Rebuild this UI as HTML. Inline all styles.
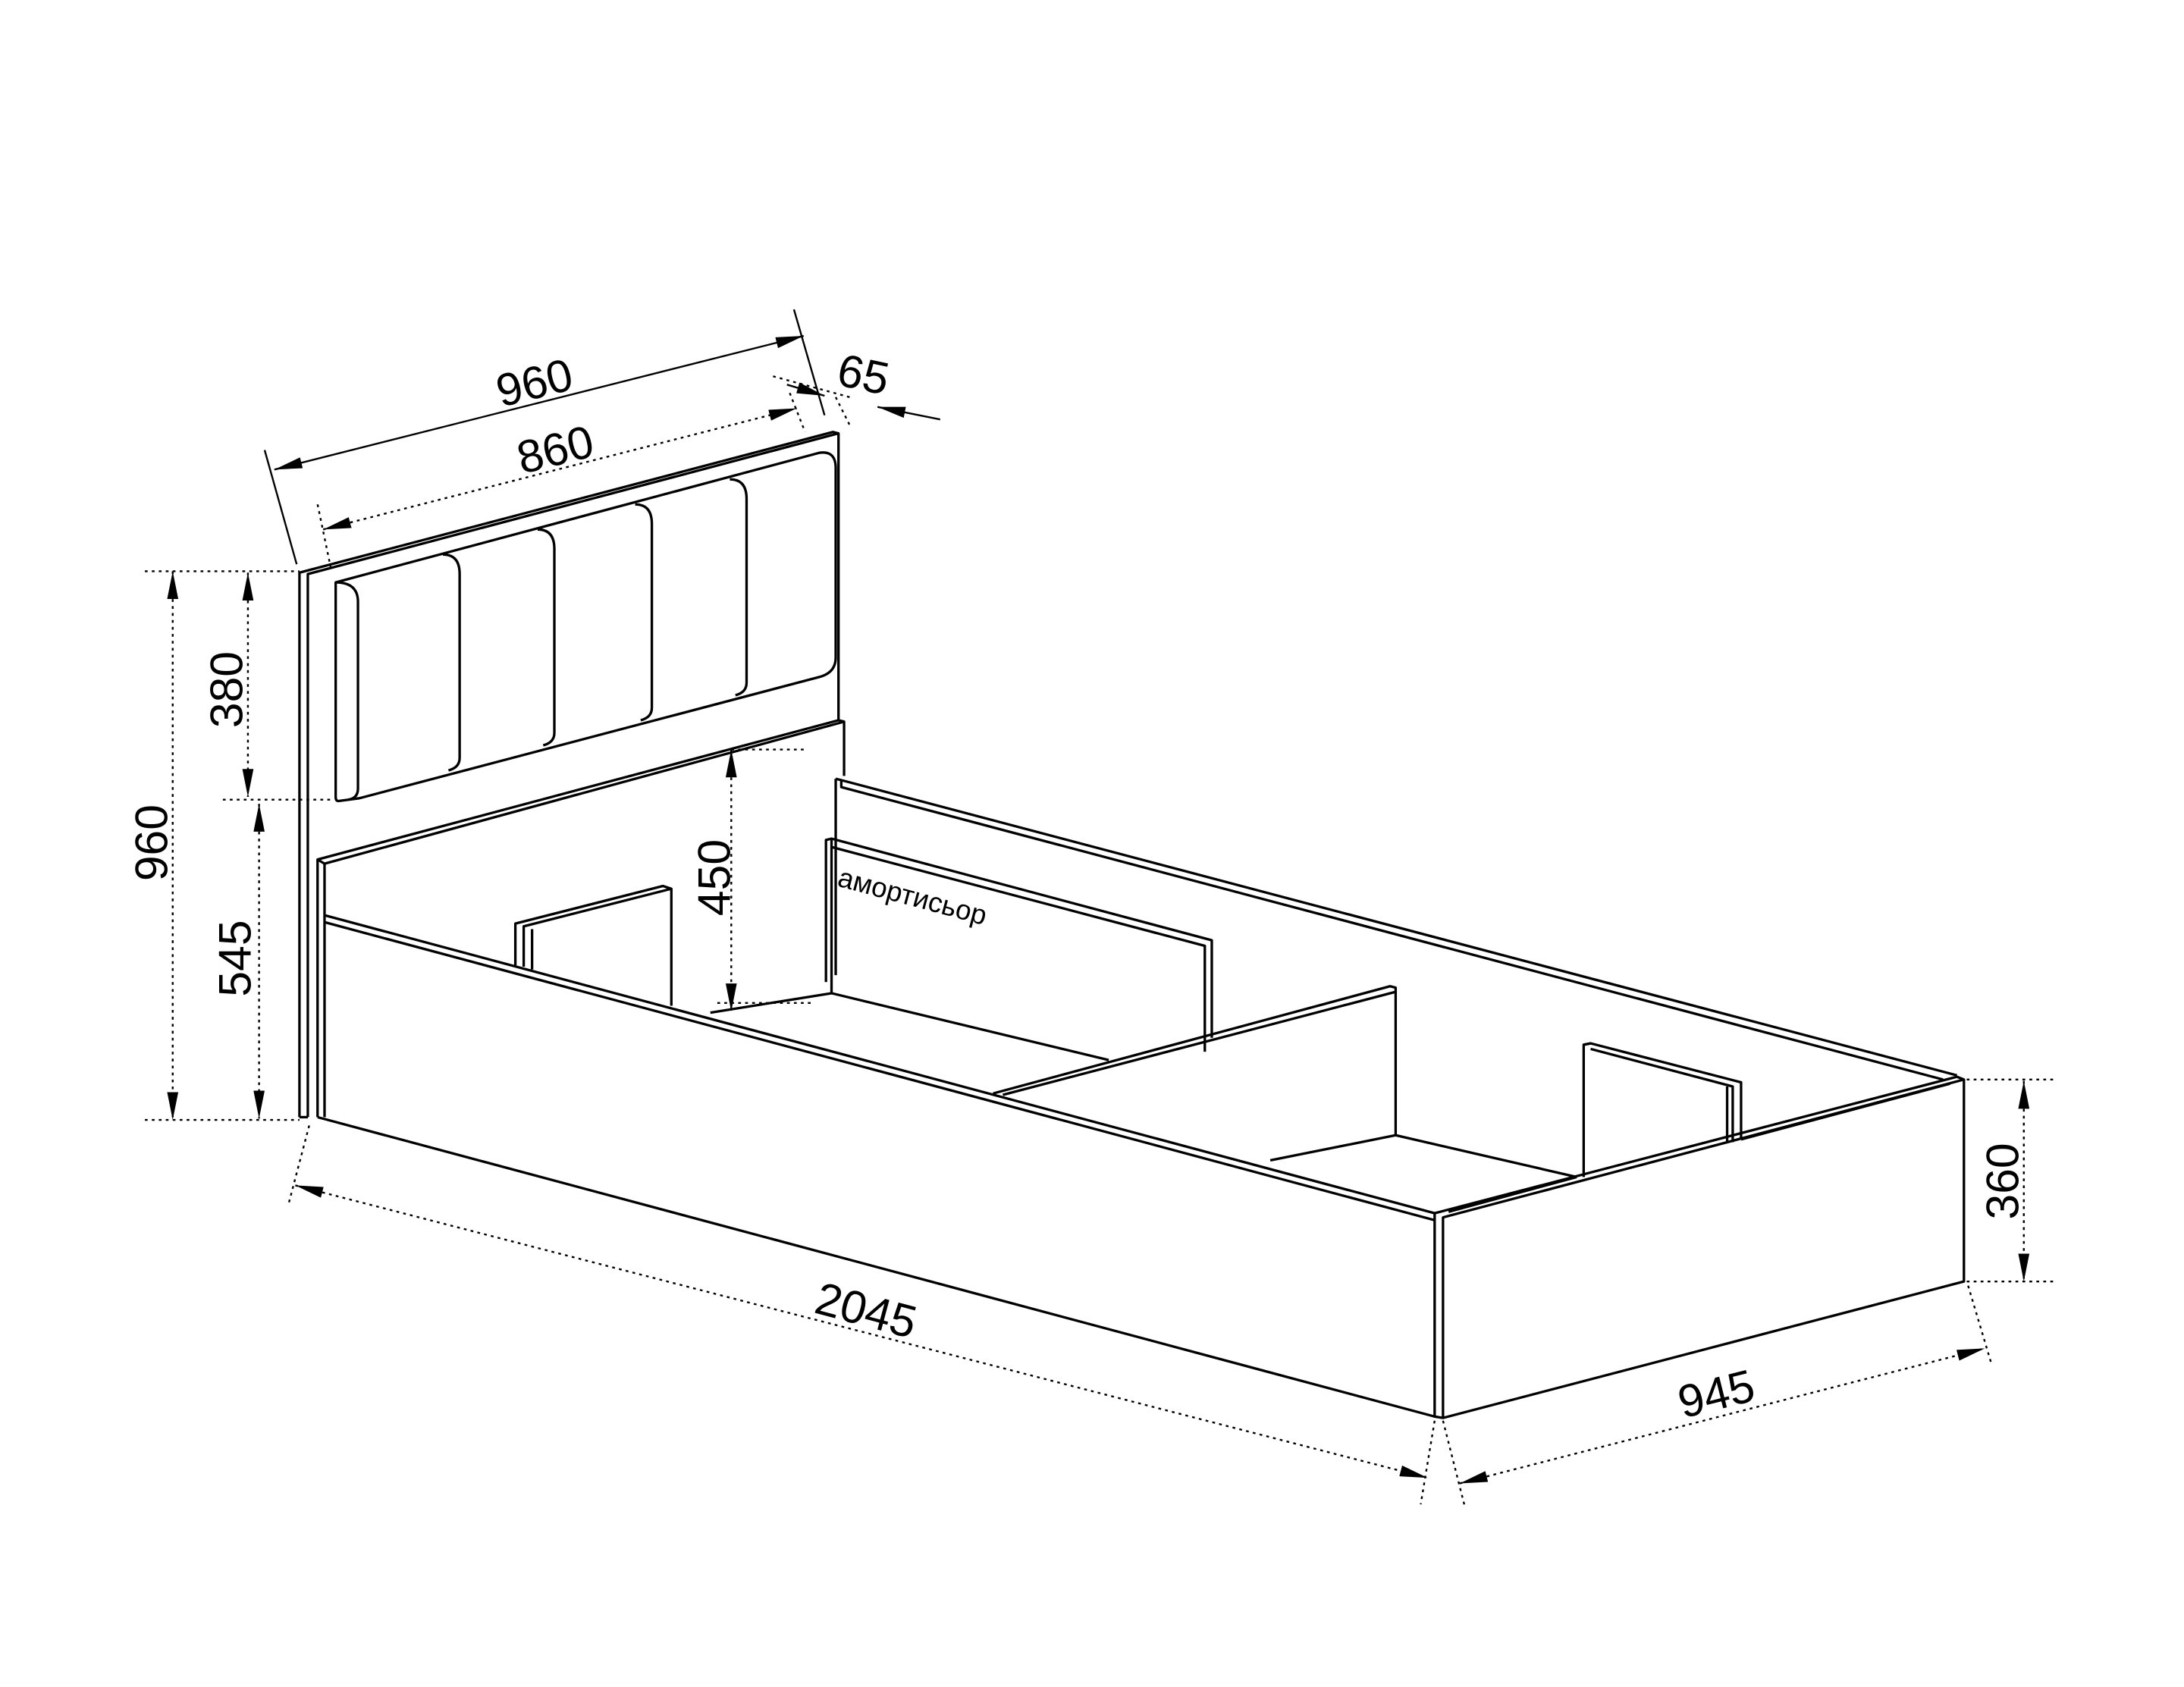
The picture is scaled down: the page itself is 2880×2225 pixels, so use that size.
<!DOCTYPE html>
<html><head><meta charset="utf-8"><style>
html,body{margin:0;padding:0;background:#fff;}
svg{display:block;}
text{font-family:"Liberation Sans",sans-serif;fill:#000;}
</style></head><body>
<svg width="2880" height="2225" viewBox="0 0 1568 1211" xmlns="http://www.w3.org/2000/svg">
<defs>
<marker id="a" viewBox="0 0 20 8" refX="20" refY="4" markerWidth="20" markerHeight="8" markerUnits="userSpaceOnUse" orient="auto-start-reverse"><path d="M0,0 L20,4 L0,8 z" fill="#000"/></marker>
</defs>
<g fill="none" stroke="#000" stroke-width="1.8" stroke-linejoin="round">
<path d="M215,802 V411 L598,310 L602,311 V517"/>
<path d="M221,802 V412 L602,311"/>
<path d="M215,802 H221"/>
<path d="M241,418 L588,325 Q600,323 600,336 V472 Q600,483 588,486 L258,573 L243,575 Q241,575 241,572 Z"/>
<path d="M241,418 Q257,418 257,432 V566 Q257,573 250,574"/>
<path d="M318,398 Q330,398 330,412 V544 Q330,551 322,553"/>
<path d="M386,380 Q398,380 398,394 V526 Q398,533 390,535"/>
<path d="M456,362 Q468,362 468,376 V508 Q468,515 460,517"/>
<path d="M524,344 Q536,344 536,358 V490 Q536,497 528,499"/>
<path d="M228,802 V617 L602,517 L606,518 V557"/>
<path d="M233,802 V620 L606,518"/>
<path d="M228,617 L233,620"/>
<path d="M233,657 L1030,871"/>
<path d="M233,662 L1030,876"/>
<path d="M228,802 L1030,1017"/>
<path d="M1030,871 V1017 L1036,1018 L1410,920 V775 L1405,773 L1030,871"/>
<path d="M1036,1018 V874 L1410,775"/>
<path d="M600,559 V700"/>
<path d="M600,559 L604,560 L1405,772"/>
<path d="M604,560 V565 L1395,775"/>
<path d="M593,705 V603 L597,602 L870,675 V745"/>
<path d="M597,602 V713"/>
<path d="M597,608 L865,679 V755"/>
<path d="M510,727 L597,713 L796,761"/>
<path d="M370,693 V663 L476,636 L482,638 V722"/>
<path d="M376,694 V665 L482,638"/>
<path d="M382,696 V667"/>
<path d="M713,785 L998,708 L1002,709 V815"/>
<path d="M720,786 L1002,712"/>
<path d="M912,833 L1002,815 L1132,845"/>
<path d="M1137,845 V750 L1142,749 L1250,777 V818"/>
<path d="M1142,753 L1244,780 V820"/>
<path d="M1137,750 L1142,749"/>
<path d="M1240,780 V820"/>
<path d="M1040,870 L1132,845"/>
<path d="M1250,818 L1400,778"/>
</g>
<g fill="none" stroke="#000" stroke-width="1.3">
<line x1="197" y1="337" x2="577" y2="241" marker-start="url(#a)" marker-end="url(#a)"/>
<line x1="190" y1="323" x2="213" y2="405"/>
<line x1="570" y1="222" x2="592" y2="298"/>
<line x1="565" y1="276" x2="592" y2="284" marker-end="url(#a)"/>
<line x1="675" y1="301" x2="630" y2="292" marker-end="url(#a)"/>
</g>
<g fill="none" stroke="#000" stroke-width="1.3" stroke-dasharray="2,3">
<line x1="232" y1="380" x2="572" y2="293" marker-start="url(#a)" marker-end="url(#a)"/>
<line x1="228" y1="362" x2="238" y2="410"/>
<line x1="567" y1="282" x2="578" y2="310"/>
<line x1="555" y1="270" x2="610" y2="285"/>
<line x1="600" y1="285" x2="610" y2="305"/>
<line x1="124" y1="410" x2="124" y2="804" marker-start="url(#a)" marker-end="url(#a)"/>
<line x1="104" y1="410" x2="215" y2="410"/>
<line x1="104" y1="804" x2="215" y2="804"/>
<line x1="160" y1="574" x2="240" y2="574"/>
<line x1="178" y1="411" x2="178" y2="572" marker-start="url(#a)" marker-end="url(#a)"/>
<line x1="186" y1="577" x2="186" y2="803" marker-start="url(#a)" marker-end="url(#a)"/>
<line x1="525" y1="538" x2="525" y2="726" marker-start="url(#a)" marker-end="url(#a)"/>
<line x1="525" y1="538" x2="578" y2="538"/>
<line x1="515" y1="720" x2="582" y2="720"/>
<line x1="212" y1="851" x2="1025" y2="1061" marker-start="url(#a)" marker-end="url(#a)"/>
<line x1="222" y1="808" x2="207" y2="865"/>
<line x1="1030" y1="1020" x2="1020" y2="1080"/>
<line x1="1048" y1="1065" x2="1425" y2="968" marker-start="url(#a)" marker-end="url(#a)"/>
<line x1="1036" y1="1020" x2="1052" y2="1083"/>
<line x1="1413" y1="923" x2="1430" y2="980"/>
<line x1="1453" y1="776" x2="1453" y2="920" marker-start="url(#a)" marker-end="url(#a)"/>
<line x1="1412" y1="775" x2="1475" y2="775"/>
<line x1="1412" y1="920" x2="1475" y2="920"/>
</g>
<g font-size="33">
<text x="383" y="286" text-anchor="middle" transform="rotate(-14 383 272)">960</text>
<text x="398" y="334" text-anchor="middle" transform="rotate(-14 398 320)">860</text>
<text x="620" y="280" text-anchor="middle" transform="rotate(12 620 268)">65</text>
<text x="108" y="617" text-anchor="middle" transform="rotate(-90 108 605)">960</text>
<text x="162" y="507" text-anchor="middle" transform="rotate(-90 162 495)">380</text>
<text x="168" y="700" text-anchor="middle" transform="rotate(-90 168 688)">545</text>
<text x="512" y="642" text-anchor="middle" transform="rotate(-90 512 630)">450</text>
<text x="622" y="952" text-anchor="middle" transform="rotate(15 622 940)">2045</text>
<text x="1232" y="1012" text-anchor="middle" transform="rotate(-14 1232 1000)">945</text>
<text x="1437" y="860" text-anchor="middle" transform="rotate(-90 1437 848)">360</text>
</g>
<text x="602" y="636" font-size="20" transform="rotate(15 602 630)">амортисьор</text>
</svg>
</body></html>
